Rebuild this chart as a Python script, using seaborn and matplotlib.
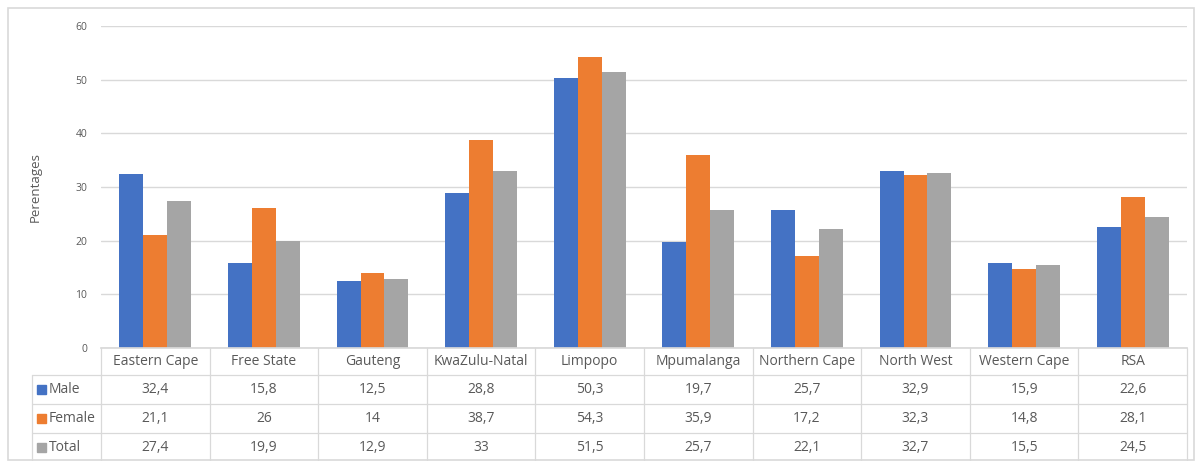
import matplotlib
matplotlib.use("Agg")
import matplotlib.pyplot as plt
import seaborn as sns
import pandas as pd
from matplotlib.patches import Rectangle
from matplotlib.lines import Line2D

categories = ["Eastern Cape", "Free State", "Gauteng", "KwaZulu-Natal", "Limpopo",
              "Mpumalanga", "Northern Cape", "North West", "Western Cape", "RSA"]
male = [32.4, 15.8, 12.5, 28.8, 50.3, 19.7, 25.7, 32.9, 15.9, 22.6]
female = [21.1, 26, 14, 38.7, 54.3, 35.9, 17.2, 32.3, 14.8, 28.1]
total = [27.4, 19.9, 12.9, 33, 51.5, 25.7, 22.1, 32.7, 15.5, 24.5]
series_names = ["Male", "Female", "Total"]
y_ticks = [0, 10, 20, 30, 40, 50, 60]
y_label = "Perentages"

colors = ["#4472C4", "#ED7D31", "#A5A5A5"]
text_col = "#595959"
grid_col = "#D9D9D9"

sns.set_theme(style="white")
plt.rcParams['font.family'] = ['Open Sans', 'DejaVu Sans']

rows = []
for name, vals in zip(series_names, [male, female, total]):
    for c, v in zip(categories, vals):
        rows.append({"Region": c, "Series": name, "Value": v})
df = pd.DataFrame(rows)

W, H = 1195, 461
fig = plt.figure(figsize=(W / 100, H / 100), dpi=100)

def fx(px):
    return px / W

def fy(py):
    return 1 - py / H

x0, x1 = 101, 1187
ytop, ybot = 26, 348
ax = fig.add_axes([fx(x0), fy(ybot), fx(x1 - x0), (ybot - ytop) / H])
sns.barplot(data=df, x="Region", y="Value", hue="Series", order=categories,
            hue_order=series_names, palette=colors, width=0.66, saturation=1,
            linewidth=0, ax=ax, legend=False)
ax.set_ylim(0, 60)
ax.set_xlim(-0.5, len(categories) - 0.5)
ax.set_yticks(y_ticks)
ax.set_yticklabels([str(t) for t in y_ticks], fontsize=7.5, color=text_col)
ax.tick_params(axis="y", length=0, pad=10)
ax.set_xticks([])
ax.set_xlabel("")
ax.set_ylabel(y_label, fontsize=9.5, color=text_col, labelpad=24)
ax.yaxis.grid(True, color=grid_col, linewidth=1)
ax.set_axisbelow(True)
for s in ["top", "right", "left"]:
    ax.spines[s].set_visible(False)
ax.spines["bottom"].set_color(grid_col)

# chart border
fig.patches.append(Rectangle((fx(8), fy(460)), fx(1194 - 8), (460 - 8) / H,
                             transform=fig.transFigure, fill=False,
                             edgecolor="#D9D9D9", linewidth=1.2))

# data table
cw = (x1 - x0) / len(categories)
row_edges = [348, 375, 404, 433, 461]
lc = "#D9D9D9"
lw = 0.9
for y in row_edges[1:-1]:
    fig.add_artist(Line2D([fx(32), fx(x1)], [fy(y), fy(y)], color=lc, lw=lw))
for k in range(len(categories) + 1):
    xx = x0 + k * cw
    fig.add_artist(Line2D([fx(xx), fx(xx)], [fy(348), fy(461)], color=lc, lw=lw))
fig.add_artist(Line2D([fx(32), fx(32)], [fy(375), fy(461)], color=lc, lw=lw))

fs = 10
for k, c in enumerate(categories):
    fig.text(fx(x0 + (k + 0.5) * cw), fy((row_edges[0] + row_edges[1]) / 2), c,
             ha="center", va="center", fontsize=fs, color=text_col)
for r, (name, vals, col) in enumerate(zip(series_names, [male, female, total], colors)):
    yc = (row_edges[r + 1] + row_edges[r + 2]) / 2
    fig.patches.append(Rectangle((fx(37), fy(yc + 4.5)), fx(9), 9 / H,
                                 transform=fig.transFigure, color=col))
    fig.text(fx(49), fy(yc), name, ha="left", va="center", fontsize=fs, color=text_col)
    for k, v in enumerate(vals):
        s = ("%g" % v).replace(".", ",")
        fig.text(fx(x0 + (k + 0.5) * cw), fy(yc), s, ha="center", va="center",
                 fontsize=fs, color=text_col)

fig.savefig("out.png", dpi=100)
